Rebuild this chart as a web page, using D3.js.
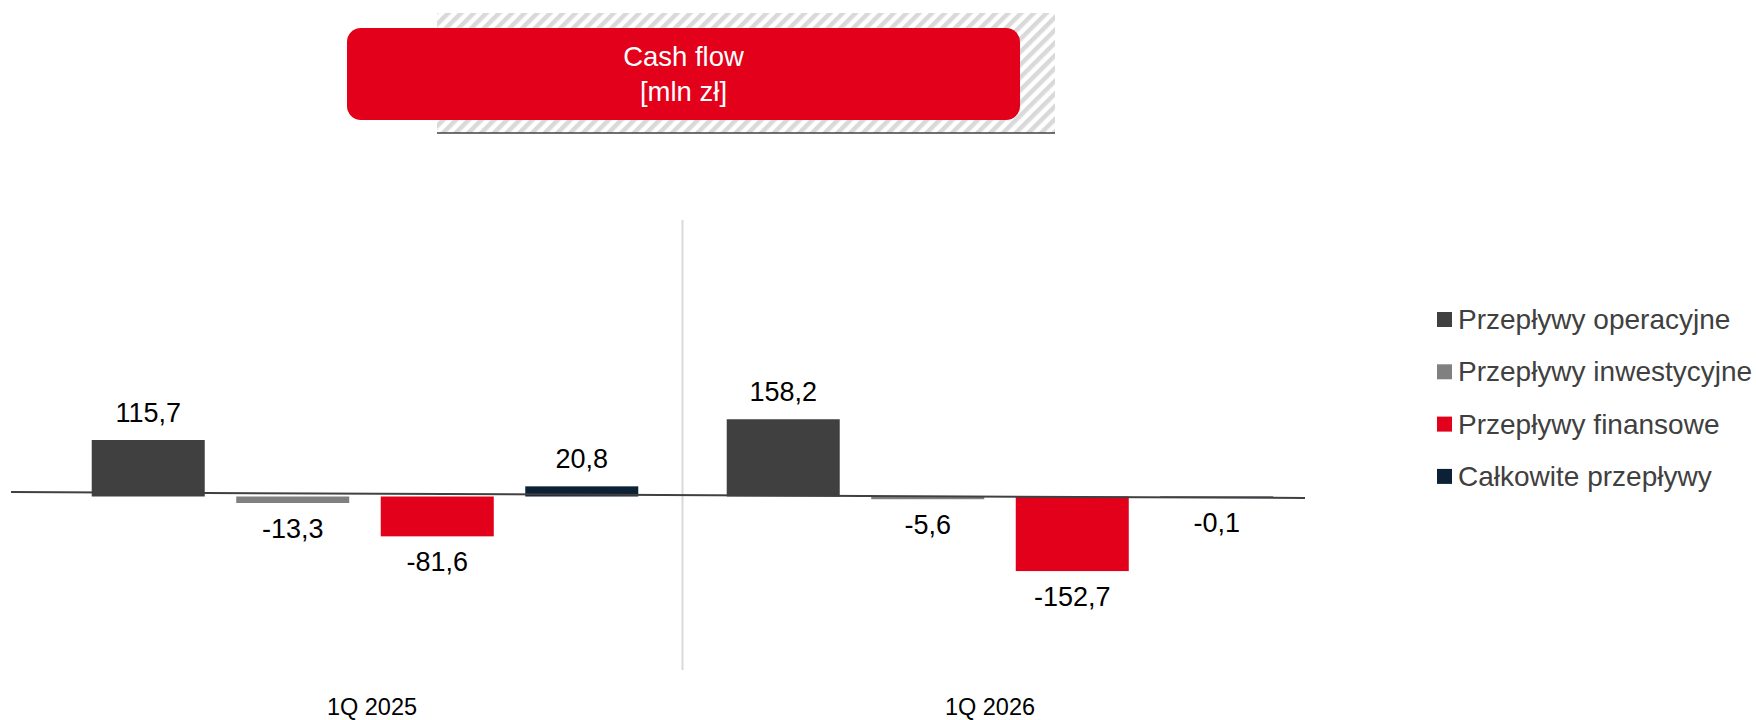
<!DOCTYPE html>
<html>
<head>
<meta charset="utf-8">
<title>Cash flow</title>
<script src="https://cdn.jsdelivr.net/npm/d3@7"></script>
<style>
  body { margin: 0; background: #fff; }
  svg { display: block; font-family: 'Liberation Sans', Arial, sans-serif; }
</style>
</head>
<body>
<svg id="chart"></svg>
<script>
// jshint esversion : 6
const categories = ['1Q 2025', '1Q 2026'];
const series = ['Przepływy operacyjne', 'Przepływy inwestycyjne', 'Przepływy finansowe', 'Całkowite przepływy'];
const operacyjne = [115.7, 158.2];
const inwestycyjne = [-13.3, -5.6];
const finansowe = [-81.6, -152.7];
const calkowite = [20.8, -0.1];
const colors = ['#404040', '#808080', '#e2001a', '#0c2036'];

const width = 1756,
  height = 720;

let svg = d3.select('#chart').attr('width', width).attr('height', height);

// values per category, in series order
let data = categories.map((c, i) => ({
  category: c,
  values: [operacyjne[i], inwestycyjne[i], finansowe[i], calkowite[i]].map((v, j) => ({ key: series[j], value: v }))
}));

let x0 = d3.scaleBand().domain(categories).range([47.5, 1317.5]);
let x1 = d3
  .scaleBand()
  .domain(series)
  .range([0, x0.bandwidth()])
  .paddingInner(0.218)
  .paddingOuter(0.306);
let y = d3.scaleLinear().domain([-300, 300]).range([643, 350]);
let color = d3.scaleOrdinal().domain(series).range(colors);

// polish number format: comma decimal, plain hyphen
let fmt = v => d3.format('.1f')(v).replace('.', ',').replace('\u2212', '-');

// title box
let defs = svg.append('defs');
defs
  .append('pattern')
  .attr('id', 'hatch')
  .attr('patternUnits', 'userSpaceOnUse')
  .attr('width', 9)
  .attr('height', 9)
  .attr('patternTransform', 'rotate(45)')
  .append('rect')
  .attr('width', 4.5)
  .attr('height', 9)
  .attr('fill', '#d9d9d9');

svg.append('rect').attr('x', 437).attr('y', 13).attr('width', 618).attr('height', 120).attr('fill', 'url(#hatch)');
svg
  .append('line')
  .attr('x1', 437)
  .attr('x2', 1055)
  .attr('y1', 133)
  .attr('y2', 133)
  .attr('stroke', '#404040')
  .attr('stroke-width', 1.5);
svg
  .append('rect')
  .attr('x', 347)
  .attr('y', 28)
  .attr('width', 673)
  .attr('height', 92)
  .attr('rx', 14)
  .attr('fill', '#e2001a');

let title = svg
  .append('text')
  .attr('text-anchor', 'middle')
  .attr('fill', '#fff')
  .style('font-size', '27.5px');
title.append('tspan').attr('x', 683.5).attr('y', 66).text('Cash flow');
title.append('tspan').attr('x', 683.5).attr('y', 101).text('[mln zł]');

// separator between quarters
svg
  .append('line')
  .attr('x1', x0(categories[1]))
  .attr('x2', x0(categories[1]))
  .attr('y1', 220)
  .attr('y2', 670)
  .attr('stroke', '#d9d9d9')
  .attr('stroke-width', 2);

// bars
let groups = svg
  .selectAll('g.cat')
  .data(data)
  .enter()
  .append('g')
  .classed('cat', true)
  .attr('transform', d => 'translate(' + x0(d.category) + ',0)');

groups
  .selectAll('rect')
  .data(d => d.values)
  .enter()
  .append('rect')
  .attr('x', d => x1(d.key))
  .attr('width', x1.bandwidth())
  .attr('y', d => y(Math.max(0, d.value)))
  .attr('height', d => Math.max(1, Math.abs(y(d.value) - y(0))))
  .attr('fill', d => color(d.key));

groups
  .selectAll('text')
  .data(d => d.values)
  .enter()
  .append('text')
  .attr('x', d => x1(d.key) + x1.bandwidth() / 2)
  .attr('y', d => (d.value >= 0 ? y(d.value) - 18 : y(d.value) + 35))
  .attr('text-anchor', 'middle')
  .style('font-size', '27px')
  .attr('fill', '#000')
  .text(d => fmt(d.value));

// zero line (slightly tilted as in the source slide)
svg
  .append('line')
  .attr('x1', 11)
  .attr('x2', 1305)
  .attr('y1', y(0) - 4.5)
  .attr('y2', y(0) + 1.5)
  .attr('stroke', '#404040')
  .attr('stroke-width', 2);

// category axis
let xAxis = svg
  .append('g')
  .attr('transform', 'translate(0,695)')
  .call(d3.axisBottom(x0).tickSize(0));
xAxis.select('.domain').remove();
xAxis
  .selectAll('text')
  .attr('dy', '0.71em')
  .attr('y', 3)
  .attr('x', (d, i) => (i === 0 ? 7 : -10))
  .style('font-size', '23.5px')
  .style('font-family', "'Liberation Sans', Arial, sans-serif")
  .attr('fill', '#000');

// legend
let legend = svg
  .selectAll('g.legend')
  .data(series)
  .enter()
  .append('g')
  .classed('legend', true)
  .attr('transform', (d, i) => 'translate(1437,' + (319.5 + i * 52.3) + ')');

legend
  .append('rect')
  .attr('y', -7.5)
  .attr('width', 15)
  .attr('height', 15)
  .attr('fill', d => color(d));

legend
  .append('text')
  .attr('x', 21)
  .attr('y', 9.5)
  .style('font-size', '28px')
  .attr('fill', '#404040')
  .text(d => d);
</script>
</body>
</html>
